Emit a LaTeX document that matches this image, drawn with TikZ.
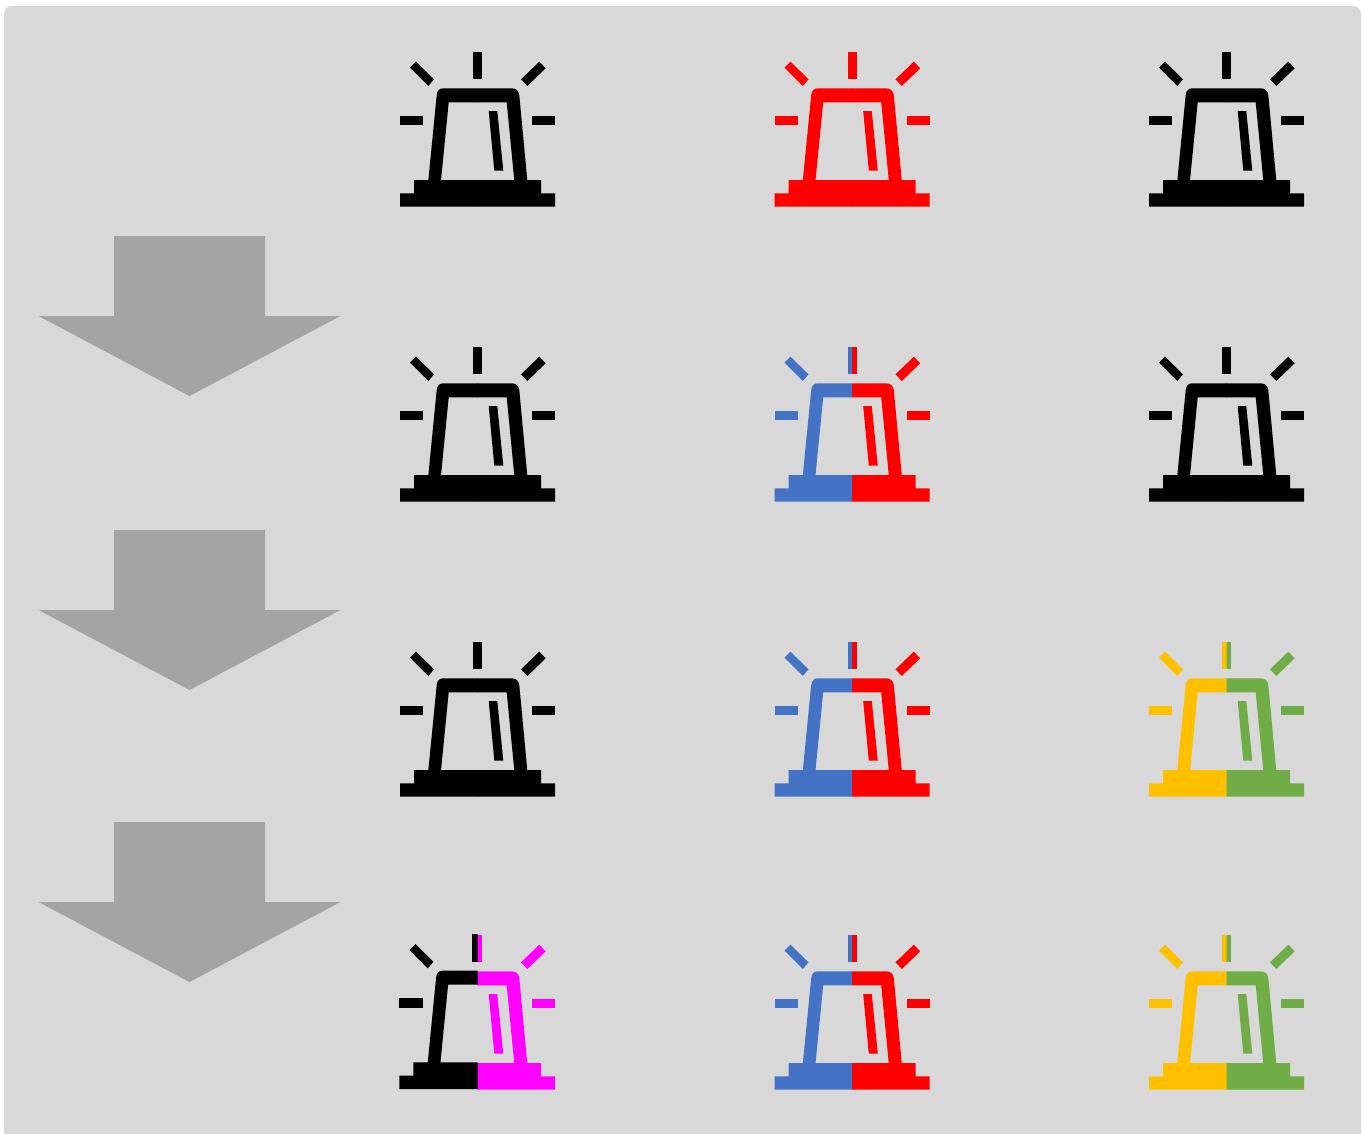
\documentclass[tikz,border=0pt]{standalone}
\definecolor{panelgray}{HTML}{D8D8D8}
\definecolor{arrowgray}{HTML}{A4A4A4}
\definecolor{offblue}{HTML}{4472C4}
\definecolor{offyellow}{HTML}{FFC000}
\definecolor{offgreen}{HTML}{70AD47}
\definecolor{puremagenta}{HTML}{FF00FF}
\definecolor{purered}{HTML}{FF0000}
\tikzset{
  panel/.style={fill=panelgray,rounded corners=8pt},
  downarrow/.style={fill=arrowgray},
}
% the beacon outline, in local pixels from the icon's top-left corner
\newcommand{\beaconshapes}[1]{%
  \fill[#1] (0,141.3) -- (14,141.3) -- (14,128) -- (141,128) -- (141,141.3) -- (155,141.3) -- (155,154.7) -- (0,154.7) -- cycle;
  \fill[#1] (28.3,128.5) -- (36.7,43) .. controls (37.2,38.5) and (39.5,36.3) .. (43.3,36.3)
     -- (111.7,36.3) .. controls (115.5,36.3) and (118.8,38.5) .. (119.3,43) -- (127.3,128.5)
     -- (114.3,128.5) -- (106.7,50.3) -- (48.7,50.3) -- (41,128.5) -- cycle;
  \fill[#1] (88.7,59) -- (97.3,59) -- (103.3,118.7) -- (94.3,118.7) -- cycle;
  \fill[#1] (73,0) -- (82.3,0) -- (82.3,27.3) -- (73,27.3) -- cycle;
  \fill[#1] (0,64) -- (23.3,64) -- (23.3,73.3) -- (0,73.3) -- cycle;
  \fill[#1] (132.3,64) -- (155,64) -- (155,73.3) -- (132.3,73.3) -- cycle;
  \fill[#1] (16,9.7) -- (34,27.3) -- (28.3,34) -- (10,15.7) -- cycle;
  \fill[#1] (139.3,9.7) -- (145.7,16.3) -- (127.3,34) -- (121,27.3) -- cycle;
}
% x, y, left colour, right colour, shift of the left half
\newcommand{\splitbeacon}[5]{%
  \begin{scope}[shift={(#1,#2)}]
    \begin{scope}
      \clip (77,-2) rectangle (157,157);
      \beaconshapes{#4}
    \end{scope}
    \begin{scope}
      \clip (-2,-2) rectangle (77.5,157);
      \begin{scope}[shift={(#5)}]
        \beaconshapes{#3}
      \end{scope}
    \end{scope}
  \end{scope}%
}
\newcommand{\beacon}[4]{\splitbeacon{#1}{#2}{#3}{#4}{0,0}}
\newcommand{\bigdown}[1]{%
  \begin{scope}[shift={(0,#1)}]
    \fill[downarrow] (114,0) -- (265,0) -- (265,80) -- (340.5,80) -- (189.5,160) -- (38.5,80) -- (114,80) -- cycle;
  \end{scope}%
}
\begin{document}
\begin{tikzpicture}[x=1pt,y=-1pt]
\useasboundingbox (0,0) rectangle (1366,1133);
\fill[panel] (4,6) rectangle (1361,1145);
\bigdown{236}
\bigdown{530}
\bigdown{822}
\beacon{400}{52}{black}{black}
\beacon{774.5}{52}{purered}{purered}
\beacon{1149}{52}{black}{black}
\beacon{400}{347}{black}{black}
\beacon{774.5}{347}{offblue}{purered}
\beacon{1149}{347}{black}{black}
\beacon{400}{642}{black}{black}
\beacon{774.5}{642}{offblue}{purered}
\beacon{1149}{642}{offyellow}{offgreen}
\splitbeacon{400}{935}{black}{puremagenta}{-0.6,-0.6}
\beacon{774.5}{935}{offblue}{purered}
\beacon{1149}{935}{offyellow}{offgreen}
\end{tikzpicture}
\end{document}
